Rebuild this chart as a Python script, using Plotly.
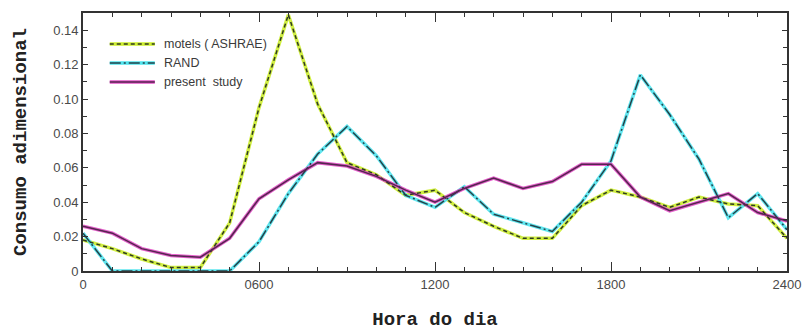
import plotly.graph_objects as go

# Hour of day (hhmm style: 0, 100, ..., 2400)
hours = [h * 100 for h in range(25)]

# Dimensionless hourly consumption
motels_ashrae = [0.018, 0.013, 0.007, 0.002, 0.002, 0.028, 0.095, 0.149, 0.097,
                 0.063, 0.056, 0.044, 0.047, 0.034, 0.026, 0.019, 0.019, 0.038,
                 0.047, 0.043, 0.037, 0.043, 0.039, 0.038, 0.019]
rand = [0.022, 0.0, 0.0, 0.0, 0.0, 0.0, 0.017, 0.045, 0.068,
        0.084, 0.067, 0.044, 0.037, 0.049, 0.033, 0.028, 0.023, 0.040,
        0.064, 0.114, 0.091, 0.065, 0.031, 0.045, 0.024]
present_study = [0.026, 0.022, 0.013, 0.009, 0.008, 0.019, 0.042, 0.053, 0.063,
                 0.061, 0.055, 0.047, 0.040, 0.048, 0.054, 0.048, 0.052, 0.062,
                 0.062, 0.043, 0.035, 0.040, 0.045, 0.034, 0.029]

x_tick_vals = [0, 600, 1200, 1800, 2400]
x_tick_text = ["0", "0600", "1200", "1800", "2400"]
y_tick_vals = [0, 0.02, 0.04, 0.06, 0.08, 0.10, 0.12, 0.14]
y_tick_text = ["0", "0.02", "0.04", "0.06", "0.08", "0.10", "0.12", "0.14"]

series = [
    # name, values, underlay colour, overlay colour, overlay dash
    ("motels ( ASHRAE)", motels_ashrae, "#cdee2e", "#2e3a22", "4px,3px"),
    ("RAND", rand, "#4fe4ee", "#24424a", "11px,3px,2px,3px"),
    ("present  study", present_study, "#e24fc6", "#55264f", "solid"),
]

fig = go.Figure()
for name, vals, under, over, dash in series:
    fig.add_trace(go.Scatter(x=hours, y=vals, mode="lines", showlegend=False,
                             line=dict(color=under, width=3.5), opacity=0.9,
                             hoverinfo="skip"))
for name, vals, under, over, dash in series:
    fig.add_trace(go.Scatter(x=hours, y=vals, mode="lines", name=name,
                             showlegend=False,
                             line=dict(color=over, width=1.5, dash=dash)))

# Hand-drawn style legend (sample strokes + labels) in the upper left
legend_rows = [0.88, 0.806, 0.733]
for (name, vals, under, over, dash), yy in zip(series, legend_rows):
    fig.add_shape(type="line", xref="paper", yref="paper",
                  x0=0.038, x1=0.102, y0=yy, y1=yy,
                  line=dict(color=under, width=3.5))
    fig.add_shape(type="line", xref="paper", yref="paper",
                  x0=0.038, x1=0.102, y0=yy, y1=yy,
                  line=dict(color=over, width=1.5, dash=dash))
    fig.add_annotation(xref="paper", yref="paper", x=0.112, y=yy,
                       xanchor="left", yanchor="middle", showarrow=False,
                       text=name,
                       font=dict(family="Liberation Sans, Arial", size=12.5,
                                 color="#3a3a3a"))

axis_common = dict(
    showline=True, linecolor="#333333", linewidth=1.8, mirror="allticks",
    ticks="inside", tickcolor="#333333", tickwidth=1.3,
    showgrid=False, zeroline=False, automargin=False,
    tickfont=dict(family="Liberation Sans, Arial", size=13, color="#4a4a4a"),
)

fig.update_xaxes(
    range=[0, 2400], tickvals=x_tick_vals, ticktext=x_tick_text, ticklen=9,
    minor=dict(dtick=100, tick0=0, ticks="inside", ticklen=4,
               tickcolor="#333333", tickwidth=1.1),
    title=dict(text="<b>Hora do dia</b>", standoff=28,
               font=dict(family="Liberation Mono, Courier New, monospace",
                         size=19, color="#222222")),
    **axis_common,
)
fig.update_yaxes(
    range=[0, 0.15], tickvals=y_tick_vals, ticktext=y_tick_text, ticklen=5,
    minor=dict(dtick=0.01, tick0=0, ticks="inside", ticklen=4,
               tickcolor="#333333", tickwidth=1.1),
    title=dict(text="<b>Consumo adimensional</b>", standoff=22,
               font=dict(family="Liberation Mono, Courier New, monospace",
                         size=19, color="#222222")),
    **axis_common,
)

fig.update_layout(
    width=806, height=331,
    margin=dict(l=83, r=19, t=13, b=60),
    paper_bgcolor="white", plot_bgcolor="white",
)

fig.write_html("out.html")
